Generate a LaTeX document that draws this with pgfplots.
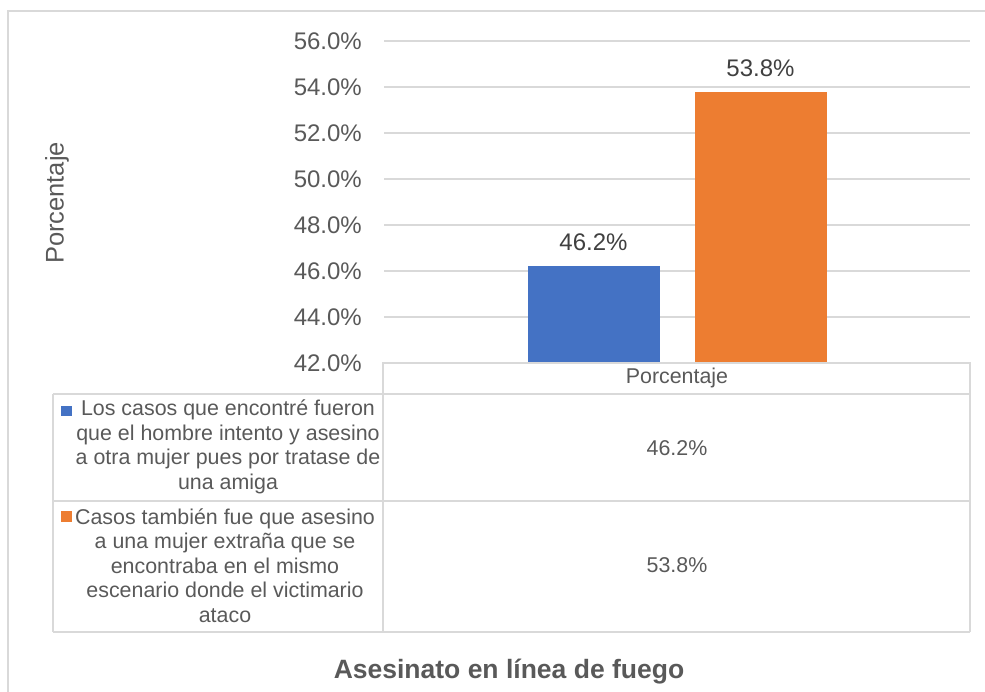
\documentclass[border=0pt]{standalone}
\usepackage{pgfplots}
\pgfplotsset{compat=1.18}
\usepackage{fontspec}
\setmainfont{Liberation Sans}
\definecolor{cblue}{HTML}{4472C4}
\definecolor{corange}{HTML}{ED7D31}
\definecolor{txt}{HTML}{595959}
\definecolor{lbl}{HTML}{404040}
\definecolor{gridc}{HTML}{D9D9D9}
\begin{document}
\begin{tikzpicture}[x=1bp,y=1bp]
\useasboundingbox (0,0) rectangle (985,692);
\draw[gridc, line width=1.3bp] (8,0) -- (8,681) -- (985,681);
\begin{axis}[
  at={(384bp,329bp)}, anchor=south west,
  scale only axis, width=586bp, height=322bp,
  xmin=-0.5, xmax=0.5, ymin=42, ymax=56,
  ytick={42,44,46,48,50,52,54,56},
  yticklabels={42.0\%,44.0\%,46.0\%,48.0\%,50.0\%,52.0\%,54.0\%,56.0\%},
  xtick=\empty,
  ymajorgrids, major grid style={gridc, line width=1.3bp},
  axis line style={draw=none}, tick style={draw=none},
  yticklabel style={font=\fontsize{24bp}{28bp}\selectfont, text=txt, inner sep=0pt, xshift=-22bp},
  ybar=35bp, bar width=132bp,
  nodes near coords={\pgfmathprintnumber[fixed,fixed zerofill,precision=1]{\pgfplotspointmeta}\%},
  /pgf/number format/assume math mode=true,
  nodes near coords style={font=\fontsize{24bp}{28bp}\selectfont, text=lbl, inner sep=0pt, anchor=south, yshift=15bp},
]
\addplot[fill=cblue, draw=none] coordinates {(0,46.2)};
\addplot[fill=corange, draw=none] coordinates {(0,53.8)};
\end{axis}
% data table
\begin{scope}[gridc, line width=1.3bp]
\draw (383,60) -- (383,329) -- (970,329) -- (970,60);
\draw (53,298) -- (970,298);
\draw (53,191) -- (970,191);
\draw (53,60) -- (970,60);
\draw (53,60) -- (53,298);
\end{scope}
\begin{scope}[font=\fontsize{21.4bp}{24.5bp}\selectfont, text=txt]
\node at (677,314) {Porcentaje};
\node at (677,244) {46.2\%};
\node at (677,127) {53.8\%};
\node[align=center] at (228,245) {Los casos que encontré fueron\\que el hombre intento y asesino\\a otra mujer pues por tratase de\\una amiga};
\node[align=center] at (225,126.5) {Casos también fue que asesino\\a una mujer extraña que se\\encontraba en el mismo\\escenario donde el victimario\\ataco};
\end{scope}
\fill[cblue] (61,276) rectangle (72,286);
\fill[corange] (61,170) rectangle (72,181);
\node[rotate=90, text=txt, font=\fontsize{25.5bp}{30bp}\selectfont] at (57,489) {Porcentaje};
\node[text=txt, font=\fontsize{26.5bp}{30bp}\selectfont\bfseries] at (509,20) {Asesinato en línea de fuego};
\end{tikzpicture}
\end{document}
